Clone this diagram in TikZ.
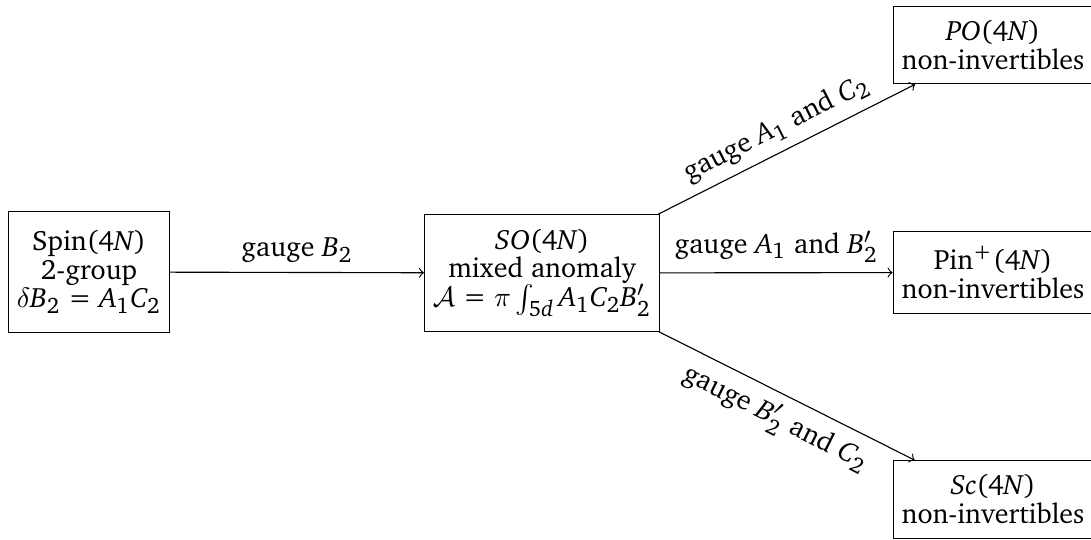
\documentclass[tikz,border=0pt]{standalone}
\usepackage[T1]{fontenc}
\usepackage{charter}
\usepackage[italic]{mathastext}
\usetikzlibrary{arrows}
\begin{document}
\begin{tikzpicture}[x=0.3575pt,y=-0.3575pt,
  box/.style={draw,align=center,inner xsep=3pt,inner ysep=5.1pt,
    font=\fontsize{10}{10.3}\selectfont},
  conn/.style={->},
  lab/.style={midway,above}]
\useasboundingbox (0,0) rectangle (1091,539);
\node[box,minimum height=43.3pt] (spin) at (89,272) {Spin$(4N)$\\2-group\\$\delta B_2=A_1C_2$};
\node[box] (so) at (542,273) {$SO(4N)$\\mixed anomaly\\$\mathcal{A}=\pi\int_{5d}A_1C_2B_2'$};
\node[box] (po) at (993,45) {$PO(4N)$\\non-invertibles};
\node[box] (pin) at (993,272.5) {Pin$^+(4N)$\\non-invertibles};
\node[box] (sc) at (993,499.5) {$Sc(4N)$\\non-invertibles};
\draw[conn] (spin) -- node[lab] {gauge $B_2$} (so);
\draw[conn] (so) -- node[lab,sloped] {gauge $A_1$ and $C_2$} (po);
\draw[conn] (so) -- node[lab] {gauge $A_1$ and $B_2'$} (pin);
\draw[conn] (so) -- node[midway,below,sloped] {gauge $B_2'$ and $C_2$} (sc);
\end{tikzpicture}
\end{document}
